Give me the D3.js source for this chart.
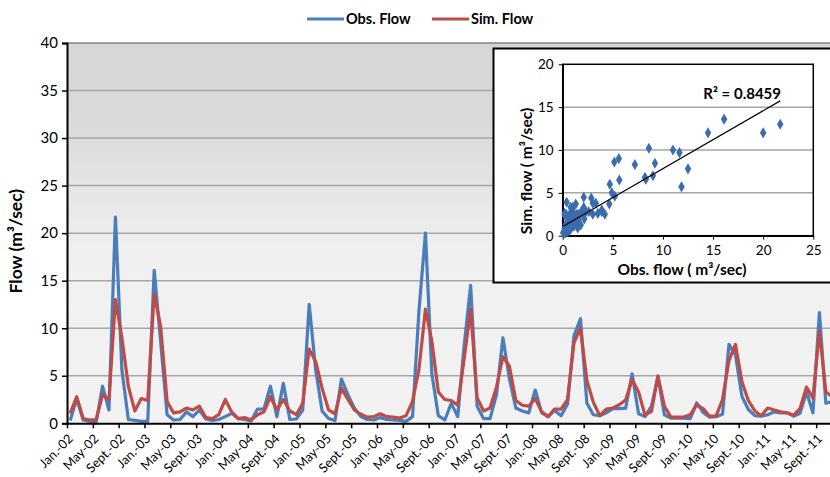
<!DOCTYPE html>
<html>
<head>
<meta charset="utf-8">
<script src="https://cdn.jsdelivr.net/npm/d3@7"></script>
<style>
  body { margin: 0; background: #fff; }
  text { font-family: Lato, "Open Sans", sans-serif; fill: #000; }
</style>
</head>
<body>
<div id="plot-container"></div>
<script>
// monthly flows, Jan-02 onwards (m3/sec)
const obsFlow = [
    0.3, 2.6, 0.35, 0.2, 0.05, 3.9, 1.4, 21.7, 5.6, 0.4, 0.3, 0.2,
    0.2, 16.1, 8.6, 0.9, 0.35, 0.4, 1.2, 0.7, 1.4, 0.45, 0.3, 0.4,
    0.7, 1.05, 0.5, 0.4, 0.25, 1.5, 1.5, 3.9, 0.7, 4.2, 0.4, 0.45,
    1.4, 12.5, 5.65, 1.3, 0.5, 0.3, 4.65, 3.0, 1.6, 0.7, 0.4, 0.35,
    0.6, 0.4, 0.35, 0.3, 0.2, 0.7, 11.85, 20.0, 5.15, 0.8, 0.35, 2.1,
    0.7, 8.2, 14.5, 1.8, 0.5, 0.5, 3.0, 9.0, 4.7, 1.6, 1.3, 1.1,
    3.5, 1.1, 0.7, 1.35, 0.8, 2.0, 9.2, 11.0, 2.1, 0.9, 0.8, 1.1,
    1.55, 1.55, 1.6, 5.2, 1.0, 0.7, 1.8, 4.9, 0.9, 0.55, 0.55, 0.55,
    0.5, 2.15, 1.15, 0.65, 0.7, 0.95, 8.3, 7.2, 2.85, 1.45, 0.8, 0.75,
    0.9, 1.2, 1.1, 1.1, 0.75, 1.05, 3.3, 1.1, 11.65, 2.1, 2.3
];
const simFlow = [
    1.05, 2.8, 0.5, 0.35, 0.35, 3.0, 2.5, 13.0, 9.0, 3.9, 1.3, 2.6,
    2.4, 13.6, 10.2, 2.3, 1.1, 1.2, 1.6, 1.4, 1.8, 0.6, 0.5, 0.9,
    2.5, 1.2, 0.5, 0.6, 0.35, 0.9, 1.2, 2.8, 1.4, 2.5, 1.3, 0.9,
    2.1, 7.8, 6.5, 3.7, 1.4, 1.0, 3.7, 2.5, 1.4, 0.95, 0.65, 0.7,
    1.0, 0.7, 0.65, 0.55, 0.8, 2.3, 5.7, 12.0, 8.6, 3.3, 2.5, 2.4,
    1.9, 6.8, 12.0, 2.7, 1.3, 1.6, 3.8, 7.0, 6.0, 2.4, 1.9, 1.8,
    2.6, 1.2, 0.7, 1.5, 1.5, 2.5, 8.45, 10.0, 4.5, 2.2, 0.8, 1.5,
    1.6, 1.95, 2.45, 4.6, 3.3, 0.85, 1.25, 5.0, 1.8, 0.65, 0.65, 0.65,
    0.9, 1.95, 1.55, 0.75, 0.75, 2.5, 6.6, 8.3, 4.4, 2.4, 1.3, 0.8,
    1.6, 1.4, 1.2, 1.1, 0.85, 1.55, 3.8, 2.65, 9.7, 3.3, 2.8
];
const nMonths = 120;
const tickLabels = [
    "Jan.-02", "May-02", "Sept.-02", "Jan.-03", "May-03", "Sept.-03",
    "Jan.-04", "May-04", "Sept.-04", "Jan.-05", "May-05", "Sept.-05",
    "Jan.-06", "May-06", "Sept.-06", "Jan.-07", "May-07", "Sept.-07",
    "Jan.-08", "May-08", "Sept.-08", "Jan.-09", "May-09", "Sept.-09",
    "Jan.-10", "May-10", "Sept.-10", "Jan.-11", "May-11", "Sept.-11"
];
const yTicks = [0, 5, 10, 15, 20, 25, 30, 35, 40];
const insetYTicks = [0, 5, 10, 15, 20];
const insetXTicks = [0, 5, 10, 15, 20, 25];
const r2Label = "R² = 0.8459";

const blue = "#4a7ebb";
const red = "#be4b48";

const width = 830, height = 477;
const plot = { left: 67, top: 43, right: 67 + 775, bottom: 423.3 };

const svg = d3.select("#plot-container")
    .append("svg")
    .attr("width", width)
    .attr("height", height);

const defs = svg.append("defs");
const grad = defs.append("linearGradient")
    .attr("id", "bg").attr("x1", 0).attr("y1", 0).attr("x2", 0).attr("y2", 1);
grad.append("stop").attr("offset", "0%").attr("stop-color", "#d6d6d6");
grad.append("stop").attr("offset", "22%").attr("stop-color", "#dadada");
grad.append("stop").attr("offset", "55%").attr("stop-color", "#f0f0f0");
grad.append("stop").attr("offset", "100%").attr("stop-color", "#f2f2f2");

const x = d3.scaleLinear().domain([0, nMonths]).range([plot.left, plot.right]);
const y = d3.scaleLinear().domain([0, 40]).range([plot.bottom, plot.top]);

svg.append("rect")
    .attr("x", plot.left).attr("y", plot.top)
    .attr("width", plot.right - plot.left).attr("height", plot.bottom - plot.top)
    .attr("fill", "url(#bg)");

// gridlines
svg.append("g")
    .selectAll("line")
    .data(yTicks.slice(1))
    .enter().append("line")
    .attr("x1", plot.left).attr("x2", plot.right)
    .attr("y1", d => y(d)).attr("y2", d => y(d))
    .attr("stroke", d => d === 40 ? "#808080" : "#a6a6a6")
    .attr("stroke-width", 1.5);

// lines
const line = d3.line()
    .x((d, i) => x(i + 0.5))
    .y(d => y(d));

svg.append("path").datum(obsFlow)
    .attr("fill", "none").attr("stroke", blue)
    .attr("stroke-width", 3.2).attr("stroke-linejoin", "round")
    .attr("d", line);

svg.append("path").datum(simFlow)
    .attr("fill", "none").attr("stroke", red)
    .attr("stroke-width", 3.2).attr("stroke-linejoin", "round")
    .attr("d", line);

// axes
const yAxis = svg.append("g")
    .attr("transform", `translate(${plot.left},0)`)
    .call(d3.axisLeft(y).tickValues(yTicks).tickSize(5).tickPadding(4));
yAxis.select(".domain").attr("stroke", "#000").attr("stroke-width", 2);
yAxis.selectAll(".tick line").attr("stroke", "#000").attr("stroke-width", 1.5);
yAxis.selectAll(".tick text").style("font-size", "15px").attr("font-family", null);

const xAxis = svg.append("g")
    .attr("transform", `translate(0,${plot.bottom})`)
    .call(d3.axisBottom(x)
        .tickValues(d3.range(0, nMonths, 4))
        .tickFormat((d, k) => tickLabels[k] || "")
        .tickSize(5).tickSizeOuter(0));
xAxis.select(".domain").attr("stroke", "#000").attr("stroke-width", 2);
xAxis.selectAll(".tick line").attr("stroke", "#000").attr("stroke-width", 1.5);
xAxis.selectAll(".tick text")
    .style("font-size", "12.8px")
    .attr("font-family", null)
    .attr("text-anchor", "end")
    .attr("dy", null)
    .attr("transform", "translate(4,14) rotate(-45)")
    .attr("y", 0).attr("x", 0)
    .attr("dominant-baseline", "middle");

svg.append("text")
    .attr("transform", `translate(22,${(plot.top + plot.bottom) / 2 + 8}) rotate(-90)`)
    .attr("text-anchor", "middle")
    .style("font-size", "17.5px").style("font-weight", "bold")
    .text("Flow (m³/sec)");

// legend
const legend = [
    { name: "Obs. Flow", color: blue, x: 307 },
    { name: "Sim. Flow", color: red, x: 432 }
];
legend.forEach(l => {
    svg.append("line")
        .attr("x1", l.x).attr("x2", l.x + 37)
        .attr("y1", 19).attr("y2", 19)
        .attr("stroke", l.color).attr("stroke-width", 3);
    svg.append("text")
        .attr("x", l.x + 39).attr("y", 24)
        .style("font-size", "14.5px").style("font-weight", "bold")
        .text(l.name);
});

// ---- inset scatter ----
svg.append("rect")
    .attr("x", 493.5).attr("y", 48.5)
    .attr("width", 345).attr("height", 234)
    .attr("fill", "#fff").attr("stroke", "#000").attr("stroke-width", 2);

const inset = { left: 562.7, right: 813.3, top: 64.3, bottom: 235.7 };
const sx = d3.scaleLinear().domain([0, 25]).range([inset.left, inset.right]);
const sy = d3.scaleLinear().domain([0, 20]).range([inset.bottom, inset.top]);

svg.append("g")
    .selectAll("line")
    .data(insetYTicks.slice(1, -1))
    .enter().append("line")
    .attr("x1", inset.left).attr("x2", inset.right)
    .attr("y1", d => sy(d)).attr("y2", d => sy(d))
    .attr("stroke", "#a6a6a6").attr("stroke-width", 1.5);

svg.append("rect")
    .attr("x", inset.left).attr("y", inset.top)
    .attr("width", inset.right - inset.left).attr("height", inset.bottom - inset.top)
    .attr("fill", "none").attr("stroke", "#000").attr("stroke-width", 1.5);

const sxAxis = svg.append("g")
    .attr("transform", `translate(0,${inset.bottom})`)
    .call(d3.axisBottom(sx).tickValues(insetXTicks).tickSize(4).tickSizeOuter(0).tickPadding(6));
const syAxis = svg.append("g")
    .attr("transform", `translate(${inset.left},0)`)
    .call(d3.axisLeft(sy).tickValues(insetYTicks).tickSize(4).tickSizeOuter(0).tickPadding(5));
[sxAxis, syAxis].forEach(a => {
    a.select(".domain").attr("stroke", "#000").attr("stroke-width", 1.5);
    a.selectAll(".tick line").attr("stroke", "#000");
    a.selectAll(".tick text").style("font-size", "13.5px").attr("font-family", null);
});

const pairs = obsFlow.map((o, i) => ({ obs: o, sim: simFlow[i] }));

// least squares trend line
const mx = d3.mean(pairs, d => d.obs), my = d3.mean(pairs, d => d.sim);
const slope = d3.sum(pairs, d => (d.obs - mx) * (d.sim - my)) / d3.sum(pairs, d => (d.obs - mx) ** 2);
const intercept = my - slope * mx;
const [xmin, xmax] = d3.extent(pairs, d => d.obs);

svg.append("g")
    .selectAll("path")
    .data(pairs)
    .enter().append("path")
    .attr("transform", d => `translate(${sx(d.obs)},${sy(d.sim)})`)
    .attr("d", d3.symbol(d3.symbolDiamond, 36))
    .attr("fill", "#3a6cae");

svg.append("line")
    .attr("x1", sx(xmin)).attr("y1", sy(intercept + slope * xmin))
    .attr("x2", sx(xmax)).attr("y2", sy(intercept + slope * xmax))
    .attr("stroke", "#000").attr("stroke-width", 1.2);

svg.append("text")
    .attr("x", 781).attr("y", 99)
    .attr("text-anchor", "end")
    .style("font-size", "15px").style("font-weight", "bold")
    .text(r2Label);

svg.append("text")
    .attr("x", 682).attr("y", 275)
    .attr("text-anchor", "middle")
    .style("font-size", "15.5px").style("font-weight", "bold")
    .text("Obs. flow ( m³/sec)");

svg.append("text")
    .attr("transform", "translate(532,171) rotate(-90)")
    .attr("text-anchor", "middle")
    .style("font-size", "15.5px").style("font-weight", "bold")
    .text("Sim. flow ( m³/sec)");
</script>
</body>
</html>
